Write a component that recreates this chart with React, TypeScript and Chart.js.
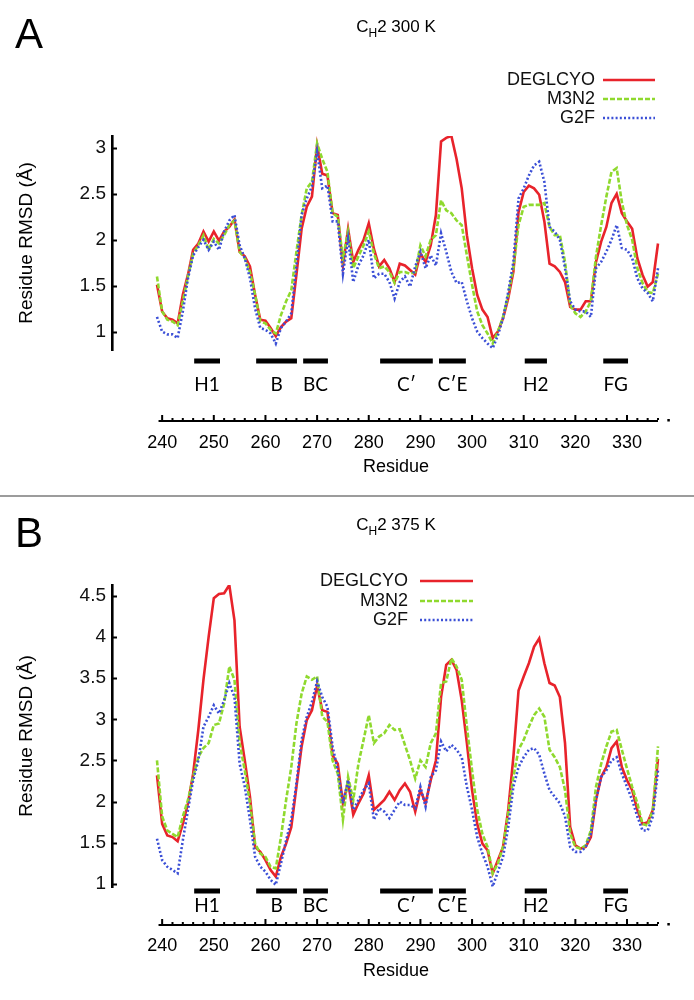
import React, { useEffect, useRef } from "react";
import { Chart, registerables } from "chart.js";

Chart.register(...registerables);

// ---------- data ----------
const RES_START = 239; // first residue of each series (one value per residue)

const SERIES_NAMES = ["DEGLCYO", "M3N2", "G2F"];

// Panel A: CH2 300 K
const A_DEGLCYO = [
  1.51, 1.22, 1.145, 1.13, 1.09, 1.4, 1.62, 1.89, 1.96, 2.09, 1.98, 2.09, 1.99, 2.09, 2.14, 2.22,
  1.87, 1.82, 1.71, 1.4, 1.13, 1.12, 1.04, 0.95, 1.05, 1.11, 1.145, 1.62, 2.12, 2.36, 2.47, 3.03,
  2.72, 2.7, 2.29, 2.27, 1.72, 2.12, 1.76, 1.89, 2.0, 2.18, 1.9, 1.71, 1.78, 1.69, 1.54, 1.74,
  1.72, 1.67, 1.62, 1.85, 1.76, 1.94, 2.27, 3.07, 3.11, 3.13, 2.88, 2.56, 2.05, 1.69, 1.4, 1.24,
  1.16, 0.93, 1.0, 1.145, 1.36, 1.65, 2.3, 2.52, 2.59, 2.56, 2.49, 2.2, 1.74, 1.71, 1.65, 1.54,
  1.27, 1.24, 1.24, 1.33, 1.33, 1.76, 1.98, 2.14, 2.4, 2.5, 2.29, 2.2, 2.12, 1.8, 1.62, 1.49, 1.54, 1.96,
];
const A_M3N2 = [
  1.6, 1.22, 1.13, 1.11, 1.07, 1.33, 1.6, 1.85, 1.94, 2.05, 1.89, 2.01, 1.96, 2.05, 2.16, 2.21,
  1.87, 1.8, 1.65, 1.4, 1.11, 1.09, 1.02, 0.98, 1.18, 1.33, 1.45, 1.87, 2.27, 2.56, 2.63, 3.05,
  2.88, 2.74, 2.29, 2.25, 1.8, 2.09, 1.69, 1.82, 1.94, 2.09, 1.85, 1.69, 1.71, 1.65, 1.53, 1.65,
  1.65, 1.63, 1.65, 1.94, 1.82, 2.0, 2.05, 2.43, 2.32, 2.29, 2.21, 2.16, 1.83, 1.51, 1.22, 1.07,
  0.98, 0.87, 1.0, 1.16, 1.4, 1.69, 2.16, 2.36, 2.38, 2.38, 2.38, 2.4, 2.14, 2.05, 2.05, 1.76,
  1.29, 1.2, 1.16, 1.22, 1.33, 1.82, 2.16, 2.47, 2.74, 2.78, 2.41, 2.16, 2.0, 1.69, 1.53, 1.43, 1.42, 1.63,
];
const A_G2F = [
  1.16, 1.0, 0.97, 0.97, 0.93, 1.22, 1.58, 1.83, 1.92, 2.0, 1.89, 1.98, 1.89, 2.09, 2.21, 2.27,
  1.94, 1.8, 1.58, 1.25, 1.04, 1.02, 0.98, 0.87, 1.04, 1.11, 1.2, 1.72, 2.27, 2.45, 2.58, 2.96,
  2.56, 2.59, 2.2, 2.2, 1.63, 2.01, 1.54, 1.72, 1.83, 2.0, 1.58, 1.63, 1.63, 1.54, 1.36, 1.54,
  1.6, 1.49, 1.71, 1.87, 1.69, 1.83, 1.72, 2.07, 1.87, 1.65, 1.53, 1.54, 1.33, 1.145, 1.0, 0.93,
  0.87, 0.82, 0.96, 1.145, 1.43, 1.76, 2.45, 2.56, 2.7, 2.81, 2.85, 2.63, 2.14, 2.09, 2.0, 1.69,
  1.33, 1.24, 1.22, 1.22, 1.16, 1.69, 1.76, 1.87, 2.0, 2.16, 1.91, 1.89, 1.8, 1.58, 1.47, 1.42, 1.33, 1.69,
];

// Panel B: CH2 375 K
const B_DEGLCYO = [
  2.32, 1.73, 1.59, 1.57, 1.52, 1.73, 1.98, 2.34, 2.87, 3.48, 4.0, 4.47, 4.52, 4.53, 4.63, 4.2,
  2.91, 2.5, 2.06, 1.45, 1.39, 1.29, 1.17, 1.09, 1.33, 1.49, 1.69, 2.18, 2.67, 2.99, 3.11, 3.41,
  3.11, 3.09, 2.56, 2.46, 1.98, 2.24, 1.84, 1.98, 2.1, 2.32, 1.9, 1.96, 2.02, 2.12, 2.02, 2.14,
  2.22, 2.12, 1.88, 2.14, 1.98, 2.26, 2.5, 3.27, 3.66, 3.72, 3.6, 3.23, 2.71, 2.14, 1.73, 1.49,
  1.41, 1.13, 1.29, 1.45, 1.9, 2.54, 3.35, 3.52, 3.68, 3.88, 3.98, 3.68, 3.44, 3.41, 3.27, 2.71,
  1.69, 1.47, 1.43, 1.45, 1.57, 2.02, 2.3, 2.42, 2.65, 2.73, 2.42, 2.26, 2.14, 1.9, 1.73, 1.75, 1.9, 2.52,
];
const B_M3N2 = [
  2.5, 1.82, 1.65, 1.61, 1.57, 1.82, 2.02, 2.3, 2.54, 2.65, 2.71, 2.93, 2.95, 3.19, 3.64, 3.48,
  2.71, 2.38, 1.98, 1.49, 1.37, 1.33, 1.21, 1.19, 1.57, 2.02, 2.42, 2.95, 3.31, 3.52, 3.48, 3.52,
  3.03, 2.97, 2.5, 2.34, 1.78, 2.3, 2.02, 2.46, 2.75, 3.05, 2.71, 2.79, 2.83, 2.93, 2.87, 2.88,
  2.69, 2.5, 2.28, 2.5, 2.42, 2.71, 2.83, 3.44, 3.46, 3.74, 3.64, 3.48, 2.91, 2.38, 1.9, 1.61,
  1.45, 1.13, 1.25, 1.45, 1.86, 2.3, 2.63, 2.75, 2.91, 3.05, 3.13, 3.03, 2.63, 2.54, 2.42, 2.14,
  1.61, 1.45, 1.43, 1.47, 1.65, 2.18, 2.46, 2.67, 2.85, 2.87, 2.63, 2.4, 2.18, 1.98, 1.73, 1.71, 1.9, 2.67,
];
const B_G2F = [
  1.55, 1.29, 1.21, 1.17, 1.13, 1.53, 1.9, 2.26, 2.5, 2.91, 3.03, 3.17, 3.07, 3.23, 3.44, 3.27,
  2.46, 2.18, 1.78, 1.33, 1.21, 1.15, 1.05, 0.99, 1.25, 1.53, 1.78, 2.22, 2.75, 3.03, 3.21, 3.46,
  3.27, 3.15, 2.67, 2.38, 1.98, 2.26, 1.9, 2.02, 2.14, 2.22, 1.78, 1.92, 1.88, 1.8, 1.9, 2.0,
  1.96, 1.96, 1.92, 2.18, 1.94, 2.3, 2.38, 2.73, 2.61, 2.69, 2.63, 2.54, 2.18, 1.9, 1.57, 1.37,
  1.21, 0.97, 1.15, 1.33, 1.69, 2.18, 2.42, 2.54, 2.63, 2.65, 2.57, 2.34, 2.14, 2.06, 1.98, 1.82,
  1.45, 1.39, 1.39, 1.45, 1.61, 2.02, 2.3, 2.38, 2.5, 2.54, 2.34, 2.18, 2.02, 1.82, 1.65, 1.65, 1.82, 2.38,
];

// secondary-structure segments (residue ranges)
const SS_LABELS = ["H1", "B", "BC", "C\u2032", "C\u2032E", "H2", "FG"];
const SS_START = [246.2, 258.2, 267.3, 282.2, 293.6, 310.2, 325.4];
const SS_END = [251.2, 266.1, 272.1, 292.4, 298.8, 314.5, 330.2];

// residue axis
const RES_TICKS = [240, 250, 260, 270, 280, 290, 300, 310, 320, 330];
const RES_AXIS_START = 239.3;
const RES_AXIS_END = 336;
const RES_AXIS_DOT = 338;

const A_Y_TICKS = [1, 1.5, 2, 2.5, 3];
const B_Y_TICKS = [1, 1.5, 2, 2.5, 3, 3.5, 4, 4.5];

// ---------- styling ----------
const SANS = '"Liberation Sans", Arial, Helvetica, sans-serif';
const SS_FONT = 'Lato, "Open Sans", sans-serif';
const COLORS = ["#e8232b", "#8fd92e", "#3b4fd6"];
const DASHES = [[], [5, 2], [2, 2.2]];
const WIDTH = 694;

type PanelCfg = {
  letter: string;
  temp: string;
  series: number[][];
  yTicks: number[];
  yMin: number;
  yMax: number;
  top: number;
  height: number;
  padTop: number;
  padBottom: number;
  barsY: number;
  labelsY: number;
  axisY: number;
  ticksY: number;
  residueY: number;
  letterY: number;
  titleY: number;
  legendRows: number[];
  legendRight: number;
  legendLine: [number, number];
};

const PANELS: PanelCfg[] = [
  {
    letter: "A",
    temp: "300 K",
    series: [A_DEGLCYO, A_M3N2, A_G2F],
    yTicks: A_Y_TICKS,
    yMin: 0.8,
    yMax: 3.13,
    top: 0,
    height: 497,
    padTop: 136,
    padBottom: 147,
    barsY: 361,
    labelsY: 385,
    axisY: 421,
    ticksY: 443,
    residueY: 467,
    letterY: 48,
    titleY: 32,
    legendRows: [80, 99, 118],
    legendRight: 595,
    legendLine: [603, 655],
  },
  {
    letter: "B",
    temp: "375 K",
    series: [B_DEGLCYO, B_M3N2, B_G2F],
    yTicks: B_Y_TICKS,
    yMin: 0.964,
    yMax: 4.63,
    top: 497,
    height: 503,
    padTop: 88,
    padBottom: 113,
    barsY: 394,
    labelsY: 409,
    axisY: 428,
    ticksY: 449,
    residueY: 474,
    letterY: 50,
    titleY: 33,
    legendRows: [84, 104, 123],
    legendRight: 408,
    legendLine: [420, 473],
  },
];

function makePlugin(cfg: PanelCfg) {
  return {
    id: "panelDecor" + cfg.letter,
    afterDraw(chart: any) {
      const ctx: CanvasRenderingContext2D = chart.ctx;
      const xs = chart.scales.x;
      const ys = chart.scales.y;
      const area = chart.chartArea;
      const midX = (area.left + area.right) / 2;
      ctx.save();

      // inward y ticks
      ctx.strokeStyle = "#000";
      ctx.lineWidth = 2;
      cfg.yTicks.forEach((v) => {
        const py = Math.round(ys.getPixelForValue(v)) + 0.5;
        ctx.beginPath();
        ctx.moveTo(area.left, py);
        ctx.lineTo(area.left + 5, py);
        ctx.stroke();
      });

      // secondary-structure bars and labels
      ctx.fillStyle = "#000";
      SS_LABELS.forEach((lab, i) => {
        const x1 = xs.getPixelForValue(SS_START[i]);
        const x2 = xs.getPixelForValue(SS_END[i]);
        ctx.fillRect(x1, cfg.barsY - 2.5, x2 - x1, 5);
        ctx.font = "19px " + SS_FONT;
        ctx.textAlign = "center";
        ctx.textBaseline = "middle";
        ctx.fillText(lab, (x1 + x2) / 2, cfg.labelsY);
      });

      // residue axis
      const ax1 = xs.getPixelForValue(RES_AXIS_START);
      const ax2 = xs.getPixelForValue(RES_AXIS_END);
      ctx.lineWidth = 2;
      ctx.beginPath();
      ctx.moveTo(ax1, cfg.axisY);
      ctx.lineTo(ax2, cfg.axisY);
      ctx.stroke();
      for (let r = 240; r <= RES_AXIS_END; r += 2) {
        const px = xs.getPixelForValue(r);
        if (r % 10 === 0 && r <= 330) {
          ctx.fillRect(px - 1, cfg.axisY - 6, 2, 6);
        } else {
          ctx.fillRect(px - 1, cfg.axisY - 3, 2, 2);
        }
      }
      const dx = xs.getPixelForValue(RES_AXIS_DOT);
      ctx.fillRect(dx - 1, cfg.axisY - 2, 2.5, 2.5);

      ctx.font = "18px " + SANS;
      ctx.textAlign = "center";
      ctx.textBaseline = "middle";
      RES_TICKS.forEach((t) => {
        ctx.fillText(String(t), xs.getPixelForValue(t), cfg.ticksY);
      });
      ctx.fillText("Residue", midX, cfg.residueY);

      // y title
      ctx.save();
      ctx.translate(27, (area.top + area.bottom) / 2);
      ctx.rotate(-Math.PI / 2);
      ctx.font = "19px " + SANS;
      ctx.textAlign = "center";
      ctx.textBaseline = "middle";
      ctx.fillText("Residue RMSD (\u00c5)", 0, 0);
      ctx.restore();

      // panel letter
      ctx.font = "42px " + SANS;
      ctx.textAlign = "left";
      ctx.textBaseline = "alphabetic";
      ctx.fillText(cfg.letter, 15, cfg.letterY);

      // title C_H2 T
      const big = "17px " + SANS;
      const small = "12px " + SANS;
      ctx.font = big;
      const wC = ctx.measureText("C").width;
      const rest = "2 " + cfg.temp;
      const wR = ctx.measureText(rest).width;
      ctx.font = small;
      const wH = ctx.measureText("H").width;
      let tx = midX - (wC + wH + wR) / 2;
      ctx.font = big;
      ctx.fillText("C", tx, cfg.titleY);
      tx += wC;
      ctx.font = small;
      ctx.fillText("H", tx, cfg.titleY + 5);
      tx += wH;
      ctx.font = big;
      ctx.fillText(rest, tx, cfg.titleY);

      // legend
      SERIES_NAMES.forEach((name, i) => {
        const ly = cfg.legendRows[i];
        ctx.font = "18px " + SANS;
        ctx.textAlign = "right";
        ctx.textBaseline = "middle";
        ctx.fillStyle = "#111";
        ctx.fillText(name, cfg.legendRight, ly);
        ctx.strokeStyle = COLORS[i];
        ctx.lineWidth = 2.6;
        ctx.setLineDash(DASHES[i]);
        ctx.beginPath();
        ctx.moveTo(cfg.legendLine[0], ly);
        ctx.lineTo(cfg.legendLine[1], ly);
        ctx.stroke();
        ctx.setLineDash([]);
      });

      ctx.restore();
    },
  };
}

function Panel({ cfg }: { cfg: PanelCfg }) {
  const ref = useRef<HTMLCanvasElement | null>(null);
  useEffect(() => {
    if (!ref.current) return;
    const datasets = cfg.series.map((vals, si) => ({
      label: SERIES_NAMES[si],
      data: vals.map((v, i) => ({ x: RES_START + i, y: v })),
      borderColor: COLORS[si],
      backgroundColor: COLORS[si],
      borderWidth: 2.6,
      borderDash: DASHES[si],
      pointRadius: 0,
      tension: 0,
      fill: false,
      order: 3 - si,
    }));
    const chart = new Chart(ref.current, {
      type: "line",
      data: { datasets },
      options: {
        animation: false,
        responsive: false,
        devicePixelRatio: 1,
        layout: { padding: { left: 0, right: 14, top: cfg.padTop, bottom: cfg.padBottom } },
        plugins: {
          legend: { display: false },
          title: { display: false },
          tooltip: { enabled: false },
        },
        scales: {
          x: { type: "linear", display: false, min: 230.29, max: 340.26 },
          y: {
            type: "linear",
            min: cfg.yMin,
            max: cfg.yMax,
            afterFit: (s: any) => {
              s.width = 112;
            },
            afterBuildTicks: (s: any) => {
              s.ticks = cfg.yTicks.map((v) => ({ value: v }));
            },
            grid: { display: false, drawTicks: false },
            border: { display: true, color: "#000", width: 2.6 },
            ticks: {
              font: { family: SANS, size: 19 },
              color: "#111",
              padding: 6,
              callback: (v: any) => String(Number(v)),
            },
          },
        },
      } as any,
      plugins: [makePlugin(cfg)],
    });
    return () => chart.destroy();
  }, [cfg]);
  return (
    <canvas
      ref={ref}
      width={WIDTH}
      height={cfg.height}
      style={{ position: "absolute", left: 0, top: cfg.top, width: WIDTH, height: cfg.height }}
    />
  );
}

export default function App() {
  return (
    <div style={{ position: "absolute", left: 0, top: 0, width: WIDTH, height: 1000, background: "#fff" }}>
      <Panel cfg={PANELS[0]} />
      <div style={{ position: "absolute", left: 0, top: 495, width: WIDTH, height: 2, background: "#9c9c9c" }} />
      <Panel cfg={PANELS[1]} />
    </div>
  );
}
